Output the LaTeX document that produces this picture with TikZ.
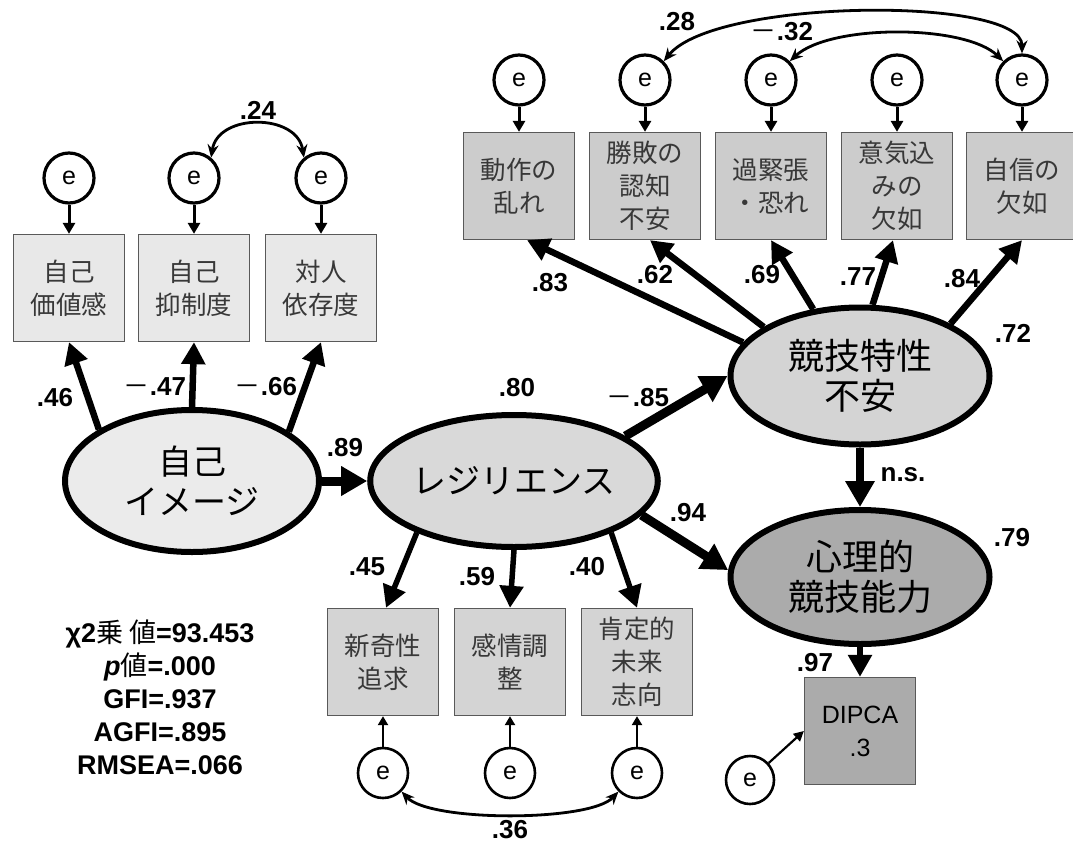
\documentclass[tikz,border=0pt]{standalone}
\usepackage{fontspec}
\setmainfont{Liberation Sans}
\newfontfamily\cjk{Noto Sans CJK JP}
\usetikzlibrary{shapes.geometric,arrows.meta}
\begin{document}
\begin{tikzpicture}[x=1pt,y=-1pt,
  err/.style={circle,draw,line width=3.2pt,minimum size=50pt,inner sep=0pt,fill=white,font=\fontsize{25}{25}\selectfont},
  errs/.style={err,line width=2.6pt},
  obs/.style={rectangle,draw=black!65,line width=1.3pt,minimum width=111pt,minimum height=107pt,inner sep=0pt,align=center,font=\cjk\fontsize{25.5}{33}\selectfont,text=black!78},
  lat/.style={ellipse,draw,line width=6pt,inner sep=0pt,align=center,font=\cjk\fontsize{34}{40}\selectfont},
  latk/.style={lat,font=\cjk\fontsize{36}{40}\selectfont},
  coef/.style={font=\bfseries\fontsize{26}{26}\selectfont,inner sep=0pt},
  load/.style={line width=6.5pt,-{Triangle[length=22pt,width=23pt]}},
  reg/.style={line width=9pt,-{Triangle[length=26pt,width=28pt]}},
  eps/.style={line width=3pt,-{Triangle[length=11pt,width=12pt]}},
  epsb/.style={line width=2.4pt,-{Triangle[length=9pt,width=10pt]}},
  cov/.style={line width=2.8pt,{Stealth[length=13pt,width=11pt]}-{Stealth[length=13pt,width=11pt]}},
]
\useasboundingbox[fill=white] (0,0) rectangle (1073,843);

% ---------- latent variables ----------
\node[lat,fill=black!8,minimum width=254pt,minimum height=142pt] (SI) at (192,481) {自己\\イメージ};
\node[lat,fill=black!15,minimum width=266pt,minimum height=132pt] (R) at (514,481) {レジリエンス};
\node[latk,fill=black!17,minimum width=259pt,minimum height=137pt] (K) at (860,376) {競技特性\\不安};
\node[latk,fill=black!33,minimum width=259pt,minimum height=134pt] (P) at (860,577) {心理的\\競技能力};

% ---------- left observed ----------
\node[obs,fill=black!9] (b1) at (69,288) {自己\\価値感};
\node[obs,fill=black!9] (b2) at (194,288) {自己\\抑制度};
\node[obs,fill=black!9] (b3) at (321,288) {対人\\依存度};
\node[err] (e1) at (69,178) {e};
\node[err] (e2) at (194,178) {e};
\node[err] (e3) at (321,178) {e};

% ---------- top observed ----------
\node[obs,fill=black!20] (t1) at (519,186) {動作の\\乱れ};
\node[obs,fill=black!20] (t2) at (645,186) {勝敗の\\認知\\不安};
\node[obs,fill=black!20] (t3) at (771,186) {過緊張\\・恐れ};
\node[obs,fill=black!20] (t4) at (897,186) {意気込\\みの\\欠如};
\node[obs,fill=black!20] (t5) at (1022,186) {自信の\\欠如};
\node[err] (u1) at (519,80) {e};
\node[err] (u2) at (645,80) {e};
\node[err] (u3) at (771,80) {e};
\node[err] (u4) at (897,80) {e};
\node[err] (u5) at (1022,80) {e};

% ---------- bottom observed ----------
\node[obs,fill=black!17] (d1) at (383,662) {新奇性\\追求};
\node[obs,fill=black!17] (d2) at (510,662) {感情調\\整};
\node[obs,fill=black!17] (d3) at (637,662) {肯定的\\未来\\志向};
\node[errs] (l1) at (383,773) {e};
\node[errs] (l2) at (510,773) {e};
\node[errs] (l3) at (637,773) {e};

% ---------- DIPCA ----------
\node[obs,fill=black!33,text=black,font=\fontsize{25}{33}\selectfont] (D) at (860,731) {DIPCA\\.3};
\node[errs,minimum size=48pt] (eD) at (750,780) {e};

% ---------- error arrows ----------
\foreach \a/\b in {e1/b1,e2/b2,e3/b3,u1/t1,u2/t2,u3/t3,u4/t4,u5/t5}
  \draw[eps] (\a) -- (\b);
\foreach \a/\b in {l1/d1,l2/d2,l3/d3}
  \draw[epsb] (\a) -- (\b);
\draw[line width=2.2pt,-{Triangle[length=10pt,width=10pt]}] (eD) -- (D.west);

% ---------- covariances ----------
\draw[cov] (e2.50) .. controls (218,113) and (297,113) .. (e3.130);
\draw[cov] (u2.45) .. controls (715,-2) and (1022,-4) .. (u5.north);
\draw[cov] (u3.45) .. controls (830,24) and (965,24) .. (u5.135);
\draw[cov] (l1.-45) .. controls (430,822) and (590,822) .. (l3.-135);

% ---------- loadings ----------
\draw[load] (SI.151) -- (b1.south);
\draw[load] (SI.north) -- (b2.south);
\draw[load] (SI.27) -- (b3.south);
\draw[load] (K.164) -- ([xshift=8pt]t1.south);
\draw[load] (K.153) -- ([xshift=5pt]t2.south);
\draw[load] (K.125) -- (t3.south);
\draw[load] (K.80) -- ([xshift=-4pt]t4.south);
\draw[load] (K.30) -- (t5.south);
\draw[load,line width=5.5pt] (R.208) -- ([xshift=3pt]d1.north);
\draw[load,line width=5.5pt] (R.south) -- (d2.north);
\draw[load,line width=5.5pt] (R.-28) -- (d3.north);
\draw[load] (P.south) -- (D.north);

% ---------- structural paths ----------
\draw[reg] (SI.east) -- (R.west);
\draw[reg] (R.22) -- (K.west);
\draw[reg] (R.-15) -- (P.177);
\draw[reg,line width=8pt] (K.south) -- (P.north);

% ---------- coefficient labels ----------
\node[coef] (c24) at (258,110) {.24};
\node[coef] (c46) at (55,398) {.46};
\node[coef] (c47) at (155,387) {{\cjk\mdseries －}.47};
\node[coef] (c66) at (266,387) {{\cjk\mdseries －}.66};
\node[coef] (c89) at (345,448) {.89};
\node[coef] (c80) at (517,388) {.80};
\node[coef] (c85) at (638,398) {{\cjk\mdseries －}.85};
\node[coef] (c94) at (688,513) {.94};
\node[coef] (c45) at (367,567) {.45};
\node[coef] (c59) at (477,577) {.59};
\node[coef] (c40) at (587,567) {.40};
\node[coef] (c36) at (510,830) {.36};
\node[coef] (c72) at (1013,333) {.72};
\node[coef] (cns) at (903,475) {n.s.};
\node[coef] (c79) at (1012,538) {.79};
\node[coef] (c97) at (815,663) {.97};
\node[coef] (c83) at (550,283) {.83};
\node[coef] (c62) at (655,275) {.62};
\node[coef] (c69) at (762,275) {.69};
\node[coef] (c77) at (858,277) {.77};
\node[coef] (c84) at (962,279) {.84};
\node[coef] (c28) at (677,22) {.28};
\node[coef] (c32) at (782,32) {{\cjk\mdseries －}.32};

% ---------- fit statistics ----------
\node[align=center,inner sep=0pt,font=\bfseries\fontsize{27}{33}\selectfont] (fit) at (160,697)
  {χ2{\cjk\mdseries 乗 値}=93.453\\\textit{p}{\cjk\mdseries 値}=.000\\GFI=.937\\AGFI=.895\\RMSEA=.066};
\end{tikzpicture}
\end{document}
